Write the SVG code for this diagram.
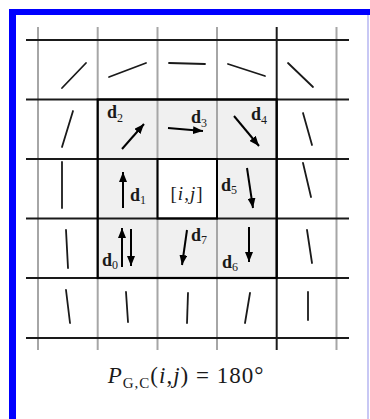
<svg xmlns="http://www.w3.org/2000/svg" width="370" height="419" viewBox="0 0 370 419">
<style>
.vg{stroke:#a6a6a6;stroke-width:2}
.hb{stroke:#1a1a1a;stroke-width:2}
.or{stroke:#1a1a1a;stroke-width:1.8;stroke-linecap:round}
.ar{stroke:#000;stroke-width:2;marker-end:url(#ah)}
.lb{font-family:"Liberation Serif",serif;font-size:18px;font-weight:bold;fill:#1a1a1a}
.sb{font-size:12px;font-weight:normal}
</style>
<defs>
<marker id="ah" markerUnits="userSpaceOnUse" markerWidth="10" markerHeight="8" refX="10" refY="4" orient="auto">
<path d="M0,0 L10,4 L0,8 z" fill="#000"/>
</marker>
</defs>
<rect x="0" y="0" width="370" height="419" fill="#fff"/>
<g id="frame">
<rect x="9" y="9" width="7" height="410" fill="#0000ff"/>
<rect x="9" y="9" width="361" height="6" fill="#0000ff"/>
<rect x="367" y="15" width="2" height="404" fill="#c8c8f4"/>
</g>
<g id="fills">
<rect x="97.7" y="99.5" width="179" height="178.5" fill="#f0f0f0"/>
<rect x="157.5" y="159" width="59.5" height="59.5" fill="#fff"/>
</g>
<g id="grid">
<line class="vg" x1="38" y1="27" x2="38" y2="350"/>
<line class="vg" x1="97.7" y1="27" x2="97.7" y2="350"/>
<line class="vg" x1="157.5" y1="27" x2="157.5" y2="350"/>
<line class="vg" x1="217" y1="27" x2="217" y2="350"/>
<line class="vg" x1="336.5" y1="27" x2="336.5" y2="350"/>
<line class="hb" x1="276.7" y1="27" x2="276.7" y2="350"/>
<line class="hb" x1="26" y1="40" x2="349" y2="40"/>
<line class="hb" x1="26" y1="99.5" x2="349" y2="99.5"/>
<line class="hb" x1="26" y1="159" x2="349" y2="159"/>
<line class="hb" x1="26" y1="218.5" x2="349" y2="218.5"/>
<line class="hb" x1="26" y1="278" x2="349" y2="278"/>
<line class="hb" x1="26" y1="338" x2="349" y2="338"/>
<rect x="97.7" y="99.5" width="179" height="178.5" fill="none" stroke="#000" stroke-width="2.2"/>
<rect x="157.5" y="159" width="59.5" height="59.5" fill="none" stroke="#000" stroke-width="2"/>
</g>
<g id="orientations">
<line class="or" x1="62" y1="88" x2="86" y2="63"/>
<line class="or" x1="109" y1="77" x2="146" y2="63"/>
<line class="or" x1="169" y1="63" x2="205" y2="64"/>
<line class="or" x1="228" y1="64" x2="265" y2="76"/>
<line class="or" x1="288" y1="63" x2="313" y2="87"/>
<line class="or" x1="73" y1="111" x2="62" y2="147"/>
<line class="or" x1="303" y1="113" x2="312" y2="145"/>
<line class="or" x1="62" y1="162" x2="62" y2="208"/>
<line class="or" x1="303" y1="163" x2="311" y2="197"/>
<line class="or" x1="66" y1="230" x2="68" y2="268"/>
<line class="or" x1="307" y1="230" x2="312" y2="263"/>
<line class="or" x1="66" y1="290" x2="70" y2="323"/>
<line class="or" x1="126" y1="292" x2="128" y2="322"/>
<line class="or" x1="188" y1="293" x2="187" y2="323"/>
<line class="or" x1="250" y1="293" x2="245" y2="323"/>
<line class="or" x1="308" y1="292" x2="308" y2="320"/>
</g>
<g id="arrows">
<line class="ar" x1="122" y1="149" x2="144" y2="124"/>
<line class="ar" x1="168" y1="128" x2="203" y2="131"/>
<line class="ar" x1="234" y1="116" x2="259" y2="146"/>
<line class="ar" x1="123" y1="208" x2="123" y2="172"/>
<line class="ar" x1="247" y1="168" x2="253" y2="208"/>
<line class="ar" x1="122" y1="267" x2="122" y2="228"/>
<line class="ar" x1="131" y1="229" x2="131" y2="266"/>
<line class="ar" x1="187" y1="230" x2="182" y2="265"/>
<line class="ar" x1="249" y1="227" x2="249" y2="262"/>
</g>
<g id="labels">
<text class="lb" x="107" y="118">d<tspan class="sb" dy="4">2</tspan></text>
<text class="lb" x="191" y="123">d<tspan class="sb" dy="4">3</tspan></text>
<text class="lb" x="251" y="120">d<tspan class="sb" dy="4">4</tspan></text>
<text class="lb" x="130" y="201">d<tspan class="sb" dy="3">1</tspan></text>
<text class="lb" x="221" y="191">d<tspan class="sb" dy="3">5</tspan></text>
<text class="lb" x="191" y="241">d<tspan class="sb" dy="3">7</tspan></text>
<text class="lb" x="222" y="268">d<tspan class="sb" dy="3">6</tspan></text>
<text class="lb" x="102" y="266">d<tspan class="sb" dy="3">0</tspan></text>
<text x="187" y="200" text-anchor="middle" font-family="'Liberation Serif',serif" font-size="19" fill="#1a1a1a" letter-spacing="1">[<tspan font-style="italic">i</tspan>,<tspan font-style="italic">j</tspan>]</text>
</g>
<g id="formula">
<text x="186" y="383" text-anchor="middle" font-family="'Liberation Serif',serif" font-size="23" fill="#1a1a1a" letter-spacing="1"><tspan font-style="italic">P</tspan><tspan font-size="15" dy="5">G,C</tspan><tspan dy="-5">(</tspan><tspan font-style="italic">i</tspan>,<tspan font-style="italic">j</tspan>) = 180°</text>
</g>
</svg>
